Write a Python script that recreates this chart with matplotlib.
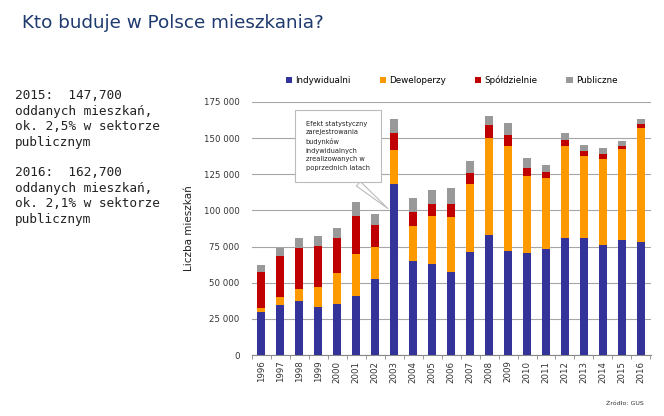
import numpy as np
import matplotlib
matplotlib.use("Agg")
import matplotlib.pyplot as plt

years = [str(y) for y in range(1996, 2017)]

# stacked segments (number of dwellings)
indywidualni = [30000, 34800, 37100, 33000, 35300, 40600, 52300, 118000, 64700, 63100, 57600,
                71200, 83200, 71900, 70300, 73500, 81100, 81100, 76000, 79700, 77900]
deweloperzy = [2700, 5300, 8800, 14200, 21200, 29400, 22400, 23900, 24500, 33200, 38000,
               47200, 67000, 72800, 53700, 49100, 63600, 56700, 59300, 62700, 79000]
spoldzielnie = [24700, 28600, 28300, 27900, 24100, 26100, 14900, 11800, 9600, 8300, 9000,
                7600, 8800, 7400, 5000, 3700, 4100, 3400, 3400, 2100, 2500]
publiczne = [4800, 5000, 6400, 6900, 7200, 9900, 7900, 9200, 9500, 9700, 10600,
             8100, 6400, 8300, 6900, 4800, 4400, 4000, 4600, 3400, 3500]

series = [("Indywidualni", indywidualni, "#333399"),
          ("Deweloperzy", deweloperzy, "#FF9900"),
          ("Spółdzielnie", spoldzielnie, "#C00000"),
          ("Publiczne", publiczne, "#999999")]

fig = plt.figure(figsize=(6.64, 4.16), dpi=100)
fig.patch.set_facecolor("white")

fig.text(0.033, 0.945, "Kto buduje w Polsce mieszkania?", fontsize=13.2,
         color="#1F3A6E", ha="left", va="center")

mono = "DejaVu Sans Mono"
fig.text(0.023, 0.785, "2015:  147,700\noddanych mieszkań,\nok. 2,5% w sektorze\npublicznym",
         fontsize=9.2, family=mono, color="#222222", va="top", linespacing=1.25)
fig.text(0.023, 0.60, "2016:  162,700\noddanych mieszkań,\nok. 2,1% w sektorze\npublicznym",
         fontsize=9.2, family=mono, color="#222222", va="top", linespacing=1.25)

ax = fig.add_axes([0.3795, 0.1466, 0.6005, 0.6084])
x = np.arange(len(years))
bottom = np.zeros(len(years))
for name, vals, col in series:
    ax.bar(x, vals, 0.42, bottom=bottom, color=col, label=name, zorder=3)
    bottom += np.array(vals)

ax.set_ylim(0, 175000)
ax.set_xlim(-0.45, 20.52)
ax.set_yticks(np.arange(0, 175001, 25000))
ax.set_yticklabels([f"{v:,}".replace(",", " ") for v in range(0, 175001, 25000)])
ax.grid(axis="y", color="#A6A6A6", linewidth=0.8, zorder=0)
ax.set_xticks(x)
ax.set_xticklabels(years, rotation=90, fontsize=6.2, color="#333333")
ax.set_xticks(np.arange(-0.5, 20.6, 1), minor=True)
ax.tick_params(axis="x", which="major", length=0, pad=4)
ax.tick_params(axis="x", which="minor", length=3, color="#888888")
ax.tick_params(axis="y", length=0, labelsize=6.2, labelcolor="#333333", pad=9)
for s in ["top", "right", "left"]:
    ax.spines[s].set_visible(False)
ax.spines["bottom"].set_color("#888888")
ax.set_ylabel("Liczba mieszkań", fontsize=7.5, color="#222222", labelpad=7)

ax.annotate("Efekt statystyczny\nzarejestrowania\nbudynków\nindywidualnych\nzrealizowanych w\npoprzednich latach",
            xy=(6.78, 100000), xytext=(2.34, 161900), fontsize=4.8, color="#222222",
            va="top", ha="left", linespacing=1.5,
            bbox=dict(boxstyle="square,pad=1.6", fc="white", ec="#BBBBBB", lw=0.8),
            arrowprops=dict(arrowstyle="wedge,tail_width=0.9", fc="white", ec="#BBBBBB",
                            lw=0.8, relpos=(0.58, 0.0)),
            zorder=5)

ax.legend(loc="lower left", bbox_to_anchor=(0.065, 1.035), ncol=4, frameon=False,
          fontsize=6.3, handlelength=0.7, handleheight=0.7, handletextpad=0.4,
          columnspacing=3.3)

fig.text(0.97, 0.027, "Źródło: GUS", fontsize=4.5, color="#333333", ha="right")

fig.savefig("out.png", dpi=100)
